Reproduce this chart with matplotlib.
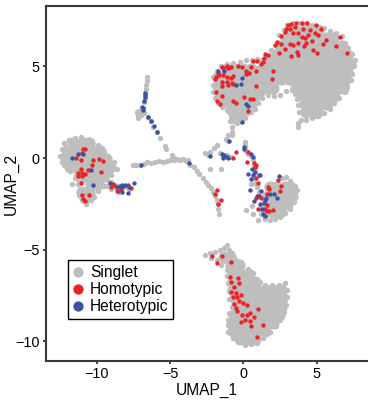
import matplotlib
matplotlib.use('Agg')
import matplotlib.pyplot as plt
from matplotlib.lines import Line2D

plt.rcParams['font.family'] = ['Liberation Sans', 'DejaVu Sans']

# Singlet: dense interior of every cluster, row by row (y: [x, ...])
core_rows = {
    # large cluster, right lobe
    7.0: [3.4, 4.0, 4.6, 5.1],
    6.55: [2.9, 3.45, 4.0, 4.55, 5.1, 5.65, 6.1],
    6.1: [2.5, 3.05, 3.6, 4.15, 4.7, 5.25, 5.8, 6.35, 6.7],
    5.65: [2.2, 2.75, 3.3, 3.85, 4.4, 4.95, 5.5, 6.05, 6.6, 7.1],
    5.2: [1.5, 2.05, 2.6, 3.15, 3.7, 4.25, 4.8, 5.35, 5.9, 6.45, 7.0, 7.3],
    4.75: [1.1, 1.65, 2.2, 2.75, 3.3, 3.85, 4.4, 4.95, 5.5, 6.05, 6.6, 7.1],
    4.3: [1.0, 1.5, 2.0, 2.6, 3.1, 3.65, 4.2, 4.75, 5.3, 5.85, 6.4, 6.95],
    3.85: [1.0, 1.5, 2.0, 3.6, 4.15, 4.7, 5.25, 5.8, 6.35, 6.8],
    3.4: [4.1, 4.65, 5.2, 5.75, 6.2],
    2.95: [4.2, 4.75, 5.3, 5.7],
    2.5: [4.3, 4.8, 5.0],
    # large cluster, left lobe
    4.85: [-1.1, -0.55, 0.0, 0.5],
    4.4: [-1.7, -1.15, -0.6, -0.05, 0.5],
    3.95: [-1.7, -1.15, -0.6, -0.05, 0.5, 0.95],
    3.5: [-1.6, -1.05, -0.5, 0.05, 0.55, 1.0],
    3.05: [-1.4, -0.85, -0.3, 0.25, 0.6],
    2.6: [-0.75, -0.3, 0.15],
    2.2: [-0.6, -0.3],
    # left cluster
    0.85: [-11.6, -11.0, -10.5],
    0.4: [-12.0, -11.45, -10.9, -10.35, -9.8],
    -0.05: [-12.1, -11.55, -11.0, -10.45, -9.9, -9.4],
    -0.5: [-11.8, -11.25, -10.7, -10.15, -9.6, -9.1],
    -0.95: [-11.2, -10.65, -10.1, -9.6],
    -1.4: [-10.4, -9.9],
    -1.85: [-11.0, -10.5],
    -2.15: [-10.8],
    # right small cluster
    -1.6: [1.8, 2.3, 2.85, 3.2],
    -2.05: [1.7, 2.2, 2.75, 3.3],
    -2.5: [1.6, 2.1, 2.6, 3.0],
    -2.95: [1.5, 2.0, 2.5],
    # bottom cluster
    -5.4: [-1.3, -0.9],
    -5.85: [-0.85, -0.3],
    -6.3: [-0.7, -0.2, 0.3],
    -6.75: [-0.7, -0.2, 0.3, 0.8],
    -7.2: [-0.7, -0.15, 0.4, 0.95, 1.5, 2.0, 2.55],
    -7.65: [-0.6, -0.05, 0.5, 1.05, 1.6, 2.15, 2.65],
    -8.1: [-0.5, 0.05, 0.6, 1.15, 1.7, 2.25, 2.55],
    -8.55: [-0.65, -0.1, 0.45, 1.0, 1.55, 2.1, 2.4],
    -9.0: [-0.7, -0.15, 0.4, 0.95, 1.5, 2.0],
    -9.45: [-0.7, -0.15, 0.4, 0.95, 1.5],
    -9.85: [-0.2, 0.3, 0.8],
}

# Singlet: single cells along borders and thin arms
big_edge = [(2.45, 6.7), (2.75, 7.0), (3.0, 7.25), (3.4, 7.35), (3.8, 7.35), (4.3, 7.38), (4.7, 7.25),
            (5.1, 7.15), (5.5, 7.1), (5.9, 6.95), (6.3, 6.85), (6.7, 6.65), (6.95, 6.3), (7.15, 6.0),
            (7.4, 5.7), (7.6, 5.35), (7.55, 5.0), (7.4, 4.6), (7.35, 4.25), (7.1, 3.95), (6.9, 3.6),
            (6.5, 3.3), (6.2, 3.0), (5.9, 2.7), (5.5, 2.45), (5.1, 2.3), (4.7, 2.2), (4.3, 2.1), (3.9, 2.1),
            (3.8, 2.5), (3.75, 2.9), (3.65, 3.2), (3.55, 3.5), (3.3, 3.7), (2.9, 3.65), (2.5, 3.45),
            (2.1, 3.4), (1.7, 3.45), (1.3, 3.3), (1.0, 3.0), (0.8, 2.7), (0.5, 2.5), (1.9, 5.9), (2.1, 5.7),
            (1.7, 5.5), (1.3, 5.35), (0.9, 5.4), (0.6, 5.35), (0.2, 5.35), (-0.2, 5.25), (-0.7, 5.2),
            (-1.1, 5.15), (-1.5, 5.0), (-1.8, 4.75), (-2.05, 4.4), (-2.1, 4.0), (-2.05, 3.6), (-1.95, 3.3),
            (-1.75, 3.0), (-1.45, 2.8), (-1.1, 2.6), (-0.85, 2.3), (-0.9, 2.0), (-0.75, 1.7), (-0.4, 1.9),
            (0.1, 2.2), (3.75, 1.7), (3.7, 1.9)]
left_edge = [(-12.5, 0.1), (-12.4, 0.5), (-12.2, 0.8), (-11.9, 1.0), (-11.5, 1.1), (-11.1, 1.15), (-10.7, 1.0),
             (-10.3, 0.85), (-9.9, 0.7), (-9.5, 0.35), (-9.2, 0.0), (-8.8, -0.2), (-8.65, -0.6), (-9.0, -0.9),
             (-9.3, -1.2), (-9.5, -1.5), (-9.9, -1.8), (-10.2, -2.1), (-10.4, -2.3), (-10.7, -2.5), (-11.0, -2.3),
             (-11.2, -2.0), (-11.1, -1.7), (-11.3, -1.4), (-11.7, -1.4), (-11.5, -1.1), (-11.8, -0.7),
             (-12.2, -0.4), (-12.4, -0.2), (-10.9, -1.2),
             (-9.3, -1.5), (-9.0, -1.3), (-8.8, -1.6), (-8.6, -1.5), (-8.4, -1.7), (-8.2, -1.6), (-8.0, -1.6),
             (-7.8, -1.7), (-9.0, -1.7), (-8.5, -1.85)]
arm_edge = [(-6.6, 4.44), (-6.6, 4.2), (-6.65, 3.98), (-6.65, 3.75), (-6.72, 3.53), (-6.72, 3.3), (-6.8, 3.05),
            (-6.83, 2.71), (-7.28, 2.53), (-7.1, 2.55), (-6.95, 2.5), (-7.2, 2.35), (-7.0, 2.35), (-7.17, 2.2),
            (-6.8, 2.45), (-6.49, 2.22), (-6.3, 2.0), (-6.15, 1.71), (-5.92, 1.44), (-5.7, 1.1), (-5.35, 0.65),
            (-5.25, 0.5), (-4.9, 0.16), (-4.75, 0.0),
            (-7.51, -0.35), (-7.3, -0.35), (-7.06, -0.35), (-6.8, -0.3), (-6.6, -0.2), (-6.3, -0.25), (-6.03, -0.2),
            (-5.75, -0.15), (-5.47, -0.2), (-5.2, -0.15), (-5.01, -0.11), (-4.75, -0.1), (-4.56, -0.07),
            (-4.3, -0.1), (-4.1, -0.07), (-3.9, -0.15), (-3.76, -0.11), (-3.65, -0.38), (-3.4, -0.5),
            (-3.19, -0.7), (-3.0, -0.85), (-2.74, -1.11), (-2.55, -1.3), (-2.4, -1.47), (-2.2, -1.65),
            (-2.06, -1.84), (-1.95, -2.05), (-1.83, -2.29), (-1.75, -2.5), (-1.72, -2.75), (-1.65, -3.05)]
mid_edge = [(-0.69, 2.07), (-0.75, 1.45), (-0.8, 1.25), (-1.03, 1.25), (-1.2, 1.05), (-1.03, 0.95), (-1.83, 0.71),
            (-2.0, 0.55), (-2.28, 0.35), (-2.62, 0.29), (-2.4, 0.15), (-1.6, 0.3), (-1.38, 0.07), (-1.15, 0.15),
            (-0.81, 0.07), (-2.28, -0.6), (-1.55, -0.6), (0.1, 0.89), (0.1, 0.7), (0.1, 0.53), (0.2, 0.38),
            (0.33, 0.25), (0.5, 0.1), (0.67, -0.11), (0.75, -0.35), (0.78, -0.56), (0.72, -0.8), (0.67, -1.11),
            (0.8, -1.35), (0.9, -1.56), (1.05, -1.85), (1.24, -2.11), (0.55, -1.4), (2.65, -1.1), (2.94, -1.02),
            (3.2, -1.25), (3.5, -1.5), (3.63, -1.75), (3.5, -2.1), (3.45, -2.4), (3.17, -2.75), (2.85, -3.0),
            (2.5, -3.2), (2.15, -3.3), (1.81, -3.38), (1.5, -3.3), (1.2, -3.05), (1.2, -2.6), (0.6, -2.6),
            (0.2, -2.85), (0.65, -3.05), (1.0, -3.4)]
bottom_edge = [(-2.63, -5.29), (-2.3, -5.2), (-1.95, -5.1), (-1.6, -5.0), (-1.3, -4.9), (-1.15, -4.75), (-0.95, -5.0),
               (-0.75, -5.2), (-0.47, -5.56), (-0.1, -5.85), (0.3, -6.05), (0.67, -6.29), (1.13, -6.75), (1.5, -6.9),
               (1.92, -6.93), (2.4, -6.95), (2.83, -6.84), (3.0, -7.2), (3.0, -7.56), (2.9, -8.0), (2.75, -8.4),
               (2.49, -8.84), (2.2, -9.15), (1.81, -9.47), (1.35, -9.8), (0.9, -10.11), (0.5, -10.15), (0.1, -10.2),
               (-0.3, -10.0), (-0.7, -9.8), (-1.03, -9.47), (-1.05, -9.1), (-1.03, -8.84), (-0.95, -8.45),
               (-0.8, -8.11), (-0.95, -7.7), (-1.0, -7.25), (-1.03, -6.84), (-1.1, -6.45), (-1.15, -6.1),
               (-1.5, -5.85), (-1.83, -5.56), (-2.2, -5.45)]

homotypic = [(3.06, 7.25), (3.28, 7.31), (3.62, 7.38), (3.97, 7.35), (4.35, 7.38), (4.92, 7.25), (2.94, 7.07),
             (3.17, 7.07), (3.51, 7.16), (2.83, 6.89), (2.6, 6.65), (3.4, 6.8), (3.74, 6.8), (4.08, 7.02),
             (4.53, 6.98), (3.97, 6.62), (4.42, 6.71), (4.88, 6.8), (5.28, 7.07), (5.1, 6.71), (2.26, 6.35),
             (2.15, 6.16), (2.6, 6.25), (3.17, 6.25), (3.4, 6.16), (3.74, 6.29), (4.19, 6.53), (4.65, 6.4),
             (4.25, 6.29), (4.13, 6.11), (5.62, 6.47), (5.44, 6.25), (6.58, 6.62), (6.31, 6.13), (7.1, 5.76),
             (4.72, 5.89), (5.03, 5.76), (3.67, 5.8), (3.76, 5.65), (3.28, 5.58), (2.42, 5.76), (2.83, 5.98),
             (1.47, 5.67), (1.65, 5.62), (1.4, 5.44), (0.67, 5.31), (0.94, 5.29), (1.35, 5.25), (1.17, 5.13),
             (-1.49, 4.98), (-1.15, 5.04), (-0.81, 4.98), (-0.35, 5.04), (-0.06, 4.95), (0.51, 4.98), (-1.38, 4.89),
             (-1.03, 4.89), (0.17, 4.76), (0.85, 4.76), (0.4, 4.62), (0.15, 4.58), (-1.72, 4.62), (-1.88, 4.4),
             (-1.94, 4.29), (-1.38, 4.53), (-1.65, 4.53), (-1.15, 4.4), (-0.74, 4.47), (-1.49, 4.16), (-1.15, 4.16),
             (-0.85, 4.35), (-1.49, 3.93), (-1.03, 3.98), (-0.8, 4.1), (-0.7, 4.02), (2.03, 4.76), (1.92, 4.29),
             (0.85, 3.95), (-1.88, 3.62), (-1.44, 3.4), (0.06, 3.35), (-1.83, 3.11), (-1.6, 2.98), (-0.74, 3.11),
             (-0.47, 3.02), (0.44, 3.22), (0.67, 3.22), (0.33, 2.56),
             (-10.92, 0.49), (-10.77, 0.49), (-11.03, 0.29), (-11.42, 0.02), (-11.1, -0.11), (-10.28, -0.11),
             (-9.83, -0.04), (-9.6, -0.16), (-10.3, -0.36), (-11.1, -0.6), (-10.58, -0.67), (-11.3, -0.8),
             (-11.03, -0.8), (-10.8, -0.89), (-11.3, -0.96), (-10.99, -0.96), (-9.74, -0.78), (-11.08, -1.38),
             (-10.99, -2.02), (-10.53, -2.02), (-10.92, -2.25), (-10.8, -2.33),
             (-9.06, -1.6), (-8.92, -1.42), (-8.83, -1.49), (-8.65, -1.78), (-8.53, -1.82), (-8.35, -1.69),
             (-7.85, -1.49), (-7.63, -1.65),
             (-1.79, -1.76), (-1.92, -1.95), (-1.51, -2.31), (-1.72, -2.53),
             (-0.49, 0.35), (-0.72, 0.0), (0.22, -0.2), (0.33, 0.35),
             (0.74, -0.25), (0.83, -0.38), (0.78, -0.51), (1.13, -0.93), (0.83, -1.11), (0.97, -1.38), (1.65, -1.56),
             (1.76, -1.71), (2.33, -1.2), (2.6, -1.51), (2.49, -1.82), (0.9, -2.07), (1.08, -2.07), (1.19, -2.16),
             (1.63, -1.96), (0.83, -2.2), (1.63, -2.56), (1.01, -2.78), (1.47, -2.75), (1.58, -2.87), (1.76, -2.89),
             (2.03, -2.84),
             (-2.17, -5.35), (-1.47, -5.35), (-1.83, -5.71), (-0.85, -5.67), (-0.88, -6.47), (-0.35, -6.56),
             (-0.81, -6.76), (-0.31, -6.8), (-0.63, -7.05), (-0.85, -7.29), (-0.51, -7.35), (-0.74, -7.6),
             (-0.42, -7.56), (-0.13, -7.47), (-0.28, -7.78), (-0.01, -7.89), (-0.65, -7.96), (0.26, -8.0),
             (-0.53, -8.16), (-0.42, -8.34), (0.97, -8.25), (-0.06, -8.58), (0.26, -8.58), (0.44, -8.47),
             (0.72, -8.65), (-0.17, -8.93), (0.13, -8.85), (0.44, -8.89), (1.31, -9.13), (0.53, -9.16), (0.94, -9.76)]

heterotypic = [(-1.76, 4.75), (-1.31, 4.76), (-0.08, 4.38), (-0.13, 4.07), (-0.47, 3.98), (0.17, 2.93), (0.33, 2.84),
               (-0.06, 1.98),
               (-11.72, 0.02), (-11.26, 0.24), (-10.97, 0.22), (-10.4, -0.64), (-10.24, -1.49),
               (-9.1, -1.36), (-8.6, -1.58), (-8.42, -1.53), (-8.31, -1.44), (-8.19, -1.51), (-8.08, -1.47),
               (-8.31, -1.84), (-7.78, -1.6), (-7.85, -1.93), (-7.44, -1.36),
               (-6.72, 3.53), (-6.74, 3.42), (-6.69, 3.31), (-6.76, 3.09), (-6.88, 2.8), (-6.83, 2.71), (-6.83, 2.62),
               (-6.49, 2.22), (-6.31, 2.05), (-6.08, 1.75), (-5.92, 1.4),
               (-7.01, -0.35), (-3.72, -0.24),
               (-0.97, 0.96), (-2.28, 0.11), (-1.44, 0.25), (-1.31, 0.16), (-1.42, -0.02), (-1.15, 0.07), (-1.03, 0.02),
               (0.06, 0.58), (0.06, 0.49), (0.51, 0.2), (0.65, 0.07), (0.58, -0.62), (0.78, -0.75), (0.33, -0.84),
               (0.63, -0.93), (1.08, -0.93), (0.49, -1.16), (2.42, -0.95), (0.44, -1.75), (1.19, -1.82), (1.01, -2.07),
               (0.74, -2.35), (1.53, -2.15), (1.81, -1.96), (2.08, -1.96), (2.31, -2.18), (1.47, -2.29), (1.13, -2.51),
               (1.4, -2.47), (1.24, -2.75), (1.31, -3.07), (1.47, -3.15)]

legend_labels = ['Singlet', 'Homotypic', 'Heterotypic']
x_ticks = [-10, -5, 0, 5]
y_ticks = [-10, -5, 0, 5]

GRI = '#BEBEBE'
KIRMIZI = '#EC2227'
MAVI = '#3A53A4'

fig = plt.figure(figsize=(3.68, 4.0), dpi=100)
ax = fig.add_axes([46 / 368, 39 / 400, 322 / 368, 355 / 400])

core_x = [x for y, xs in core_rows.items() for x in xs]
core_y = [y for y, xs in core_rows.items() for x in xs]
ax.scatter(core_x, core_y, s=78, c=GRI, linewidths=0, zorder=1)

# tek tek hucreler
for grup in [big_edge, left_edge, arm_edge, mid_edge, bottom_edge]:
    ax.scatter([p[0] for p in grup], [p[1] for p in grup], s=15, c=GRI, linewidths=0, zorder=1)

ax.scatter([p[0] for p in homotypic], [p[1] for p in homotypic], s=10, c=KIRMIZI, linewidths=0, zorder=2)
ax.scatter([p[0] for p in heterotypic], [p[1] for p in heterotypic], s=10, c=MAVI, linewidths=0, zorder=3)

ax.set_xlim(-13.46, 8.5)
ax.set_ylim(-11.07, 8.3)
ax.set_xticks(x_ticks)
ax.set_yticks(y_ticks)
ax.set_xticklabels(['\u221210', '\u22125', '0', '5'])
ax.set_yticklabels(['\u221210', '\u22125', '0', '5'])
ax.tick_params(labelsize=10.4, length=2.5, width=1.2, color='#222222', pad=2)
ax.set_xlabel('UMAP_1', fontsize=11.2, labelpad=1)
ax.set_ylabel('UMAP_2', fontsize=11.2, labelpad=-2.5)

ax.spines['right'].set_visible(False)
for s in ['left', 'bottom', 'top']:
    ax.spines[s].set_linewidth(1.5)
    ax.spines[s].set_color('#3A3A3A')

handles = [Line2D([], [], ls='', marker='o', ms=7.4, mfc=c, mec=c, mew=0)
           for c in [GRI, KIRMIZI, MAVI]]
leg = ax.legend(handles, legend_labels, loc='upper left', bbox_to_anchor=((68 - 46) / 322, (361 - 260) / 355),
                fontsize=11.2, frameon=True, fancybox=False, framealpha=1, edgecolor='black',
                borderpad=0.32, labelspacing=0.13, handlelength=0.7, handletextpad=0.38, borderaxespad=0)
leg.get_frame().set_linewidth(1.0)

fig.savefig('out.png', dpi=100)
